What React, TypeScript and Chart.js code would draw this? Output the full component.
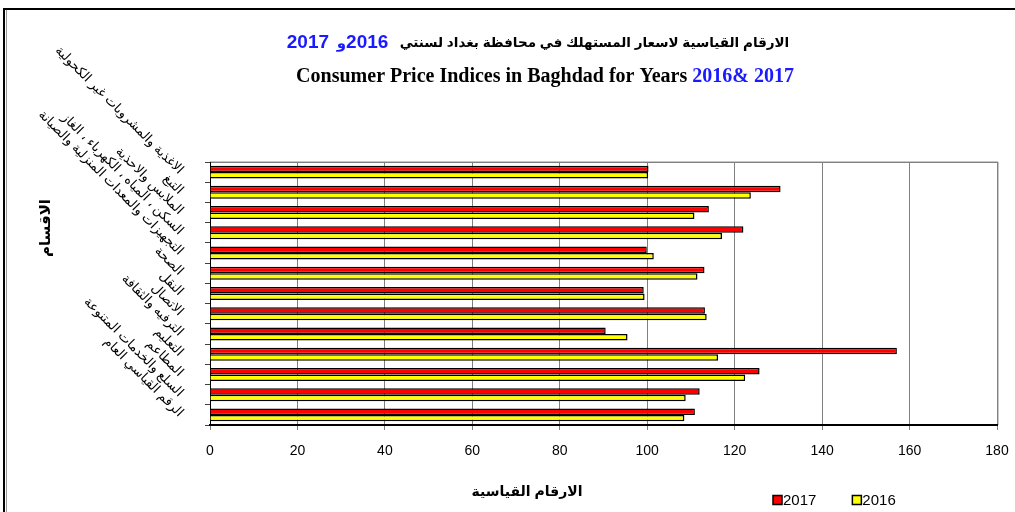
import React, { useEffect, useRef } from 'react';
import { Chart, registerables } from 'chart.js';

Chart.register(...registerables);

// ---------- data ----------
const categories: string[] = [
  'الاغذية والمشروبات غير الكحولية',
  'التبغ',
  'الملابس والاحذية',
  'السكن ، المياه ، الكهرباء ، الغاز',
  'التجهيزات والمعدات المنزلية والصيانة',
  'الصحة',
  'النقل',
  'الاتصال',
  'الترفيه والثقافة',
  'التعليم',
  'المطاعم',
  'السلع والخدمات المتنوعة',
  'الرقم القياسي العام',
];
const series2017: number[] = [100.3, 130.5, 114.1, 122.0, 99.9, 113.1, 99.2, 113.2, 90.5, 157.1, 125.7, 112.0, 110.9];
const series2016: number[] = [100.2, 123.7, 110.8, 117.1, 101.5, 111.5, 99.4, 113.6, 95.5, 116.2, 122.4, 108.8, 108.5];
const seriesNames: string[] = ['2017', '2016'];
const seriesColors: string[] = ['#FF0000', '#FFFF00'];
const xMin = 0;
const xMax = 180;
const xStep = 20;

const titleArabic = 'الارقام القياسية لاسعار المستهلك في محافظة بغداد لسنتي';
const titleArabicYearA = '2016';
const titleArabicAnd = 'و';
const titleArabicYearB = '2017';
const titleEnglish = 'Consumer Price Indices in Baghdad for Years ';
const titleEnglishYears = '2016& 2017';
const xAxisTitle = 'الارقام القياسية';
const yAxisTitle = 'الاقسام';

const SANS = 'Arial, "Liberation Sans", "DejaVu Sans", sans-serif';
const SERIF = '"Times New Roman", "Liberation Serif", "DejaVu Serif", serif';
const BLUE = '#1A1AFF';

const extrasPlugin = {
  id: 'extras',
  beforeDraw(chart: any) {
    const ctx = chart.ctx as CanvasRenderingContext2D;
    const a = chart.chartArea;
    ctx.save();
    ctx.fillStyle = '#ffffff';
    ctx.fillRect(0, 0, chart.width, chart.height);
    // outer frame (top + left)
    ctx.strokeStyle = '#000000';
    ctx.lineWidth = 2;
    ctx.beginPath();
    ctx.moveTo(3, 9);
    ctx.lineTo(chart.width, 9);
    ctx.moveTo(4, 8);
    ctx.lineTo(4, chart.height);
    ctx.stroke();
    ctx.strokeStyle = '#9a9a9a';
    ctx.lineWidth = 1;
    ctx.beginPath();
    ctx.moveTo(6.5, 10);
    ctx.lineTo(6.5, chart.height);
    ctx.stroke();
    // plot area border
    ctx.strokeStyle = '#808080';
    ctx.lineWidth = 1;
    ctx.strokeRect(Math.round(a.left) + 0.5, Math.round(a.top) + 0.5, Math.round(a.right - a.left), Math.round(a.bottom - a.top));
    ctx.strokeStyle = '#c8c8c8';
    ctx.beginPath();
    ctx.moveTo(a.left, Math.round(a.top) - 0.5);
    ctx.lineTo(a.right + 1, Math.round(a.top) - 0.5);
    ctx.moveTo(Math.round(a.right) + 1.5, a.top);
    ctx.lineTo(Math.round(a.right) + 1.5, a.bottom);
    ctx.stroke();
    ctx.restore();
  },
  afterDraw(chart: any) {
    const ctx = chart.ctx as CanvasRenderingContext2D;
    ctx.save();
    ctx.textBaseline = 'middle';

    // ---- title line 1 (Arabic) ----
    ctx.font = `bold 13.5px ${SANS}`;
    const wAr = ctx.measureText(titleArabic).width;
    const wGap = ctx.measureText('   ').width;
    ctx.font = `bold 19px ${SANS}`;
    const wA = ctx.measureText(titleArabicYearA).width;
    const wAnd = ctx.measureText(titleArabicAnd).width;
    const wSp = ctx.measureText(' ').width;
    const wB = ctx.measureText(titleArabicYearB).width;
    const total1 = wAr + wGap + wA + wAnd + wSp + wB;
    let cx = 538 + total1 / 2;
    const y1 = 43;
    ctx.textAlign = 'right';
    ctx.font = `bold 13.5px ${SANS}`;
    ctx.fillStyle = '#000';
    ctx.fillText(titleArabic, cx, y1);
    cx -= wAr + wGap;
    ctx.font = `bold 19px ${SANS}`;
    ctx.fillStyle = BLUE;
    ctx.fillText(titleArabicYearA, cx, y1);
    cx -= wA;
    ctx.font = `bold 15px ${SANS}`;
    ctx.fillText(titleArabicAnd, cx, y1 + 1);
    ctx.font = `bold 19px ${SANS}`;
    cx -= wAnd + wSp;
    ctx.fillText(titleArabicYearB, cx, y1);

    // ---- title line 2 (English) ----
    ctx.font = `bold 20px ${SERIF}`;
    const wEn = ctx.measureText(titleEnglish).width;
    const wEnY = ctx.measureText(titleEnglishYears).width;
    const lx = 545 - (wEn + wEnY) / 2;
    const y2 = 77;
    ctx.textAlign = 'left';
    ctx.fillStyle = '#000';
    ctx.fillText(titleEnglish, lx, y2);
    ctx.fillStyle = BLUE;
    ctx.fillText(titleEnglishYears, lx + wEn, y2);

    // ---- axis titles ----
    ctx.fillStyle = '#000';
    ctx.font = `bold 14px ${SANS}`;
    ctx.textAlign = 'center';
    ctx.fillText(xAxisTitle, 527, 492);
    ctx.save();
    ctx.translate(46, 228);
    ctx.rotate(-Math.PI / 2);
    ctx.font = `bold 15px ${SANS}`;
    ctx.fillText(yAxisTitle, 0, 0);
    ctx.restore();

    // ---- legend ----
    ctx.font = `15px ${SANS}`;
    ctx.textAlign = 'left';
    let legX = 773;
    const legY = 500;
    chart.data.datasets.forEach((ds: any) => {
      ctx.fillStyle = ds.backgroundColor;
      ctx.fillRect(legX, legY - 4.5, 9, 9);
      ctx.strokeStyle = '#000';
      ctx.lineWidth = 1.5;
      ctx.strokeRect(legX, legY - 4.5, 9, 9);
      ctx.fillStyle = '#000';
      ctx.fillText(ds.label, legX + 10, legY + 1);
      legX += 10 + ctx.measureText(ds.label).width + 36;
    });
    ctx.restore();
  },
};

export default function App() {
  const ref = useRef<HTMLCanvasElement | null>(null);
  useEffect(() => {
    if (!ref.current) return;
    const chart = new Chart(ref.current, {
      type: 'bar',
      data: {
        labels: categories,
        datasets: [
          {
            label: seriesNames[0],
            data: series2017,
            backgroundColor: seriesColors[0],
            borderColor: '#000000',
            borderWidth: 1.5,
            categoryPercentage: 0.64,
            barPercentage: 1,
          },
          {
            label: seriesNames[1],
            data: series2016,
            backgroundColor: seriesColors[1],
            borderColor: '#000000',
            borderWidth: 1.5,
            categoryPercentage: 0.64,
            barPercentage: 1,
          },
        ],
      },
      options: {
        indexAxis: 'y',
        responsive: false,
        animation: false,
        events: [],
        layout: { padding: { top: 162, right: 18, bottom: 0, left: 0 } },
        plugins: {
          legend: { display: false },
          title: { display: false },
          tooltip: { enabled: false },
        },
        scales: {
          x: {
            min: xMin,
            max: xMax,
            ticks: {
              stepSize: xStep,
              color: '#000',
              font: { size: 14, family: SANS },
              padding: 13,
              maxRotation: 0,
              minRotation: 0,
            },
            grid: { color: '#808080', lineWidth: 1, tickLength: 5, drawTicks: true },
            border: { color: '#000', width: 2 },
            afterFit: (s: any) => {
              s.height = 87;
              s.paddingLeft = 0;
              s.paddingRight = 0;
            },
          },
          y: {
            ticks: {
              color: '#000',
              font: { size: 13, family: SANS },
              minRotation: -45,
              maxRotation: -45,
              padding: 24,
              autoSkip: false,
            },
            grid: { drawOnChartArea: false, drawTicks: true, tickLength: 5, color: '#404040' },
            border: { color: '#000', width: 1 },
            afterFit: (s: any) => {
              s.width = 210;
            },
          },
        },
      } as any,
      plugins: [extrasPlugin],
    });
    return () => chart.destroy();
  }, []);
  return (
    <div style={{ position: 'absolute', left: 0, top: 0, width: 1015, height: 512, background: '#fff' }}>
      <canvas ref={ref} width={1015} height={512} style={{ width: 1015, height: 512, display: 'block' }} />
    </div>
  );
}
